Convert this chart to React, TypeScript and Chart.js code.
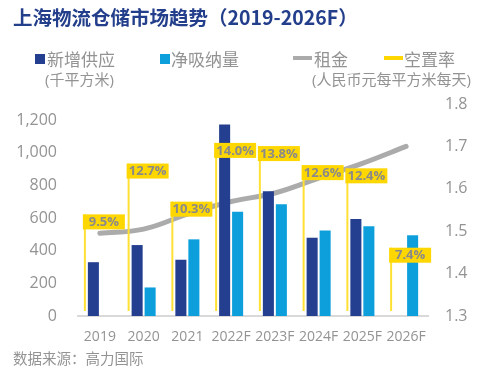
import React, { useEffect, useRef } from "react";
import { Chart, registerables } from "chart.js";

Chart.register(...registerables);

const categories = ["2019", "2020", "2021", "2022F", "2023F", "2024F", "2025F", "2026F"];
const newSupply = [330, 435, 345, 1175, 765, 480, 595, null];
const netAbsorption = [null, 175, 470, 640, 685, 525, 550, 495];
const rent = [1.495, 1.505, 1.54, 1.57, 1.59, 1.625, 1.66, 1.7];
const vacancy = [9.5, 12.7, 10.3, 14.0, 13.8, 12.6, 12.4, 7.4];
const leftTicks = [0, 200, 400, 600, 800, 1000, 1200];
const rightTicks = [1.3, 1.4, 1.5, 1.6, 1.7, 1.8];

const FONT = "'Open Sans', 'Noto Sans CJK SC', sans-serif";
const CJK = "'Noto Sans CJK SC', 'Open Sans', sans-serif";
const GRAY = "#939393";

const vacancyPlugin = {
  id: "vacancyMarks",
  afterDatasetsDraw(chart: any) {
    const meta = chart.getDatasetMeta(3);
    const xs = chart.scales.x;
    const step = xs.getPixelForValue(1) - xs.getPixelForValue(0);
    const base = chart.chartArea.bottom - 5;
    const ctx = chart.ctx;
    ctx.save();
    meta.data.forEach((pt: any, i: number) => {
      const lx = pt.x - step * 0.343;
      ctx.strokeStyle = "#FFE033";
      ctx.lineWidth = 2;
      ctx.beginPath();
      ctx.moveTo(lx, base);
      ctx.lineTo(lx, pt.y);
      ctx.stroke();
      ctx.fillStyle = "#FFD700";
      ctx.fillRect(lx - 2, pt.y, 42, 15);
      ctx.fillStyle = "#8A8A8A";
      ctx.font = "bold 13px 'Open Sans', sans-serif";
      ctx.textAlign = "center";
      ctx.textBaseline = "middle";
      ctx.fillText(vacancy[i].toFixed(1) + "%", lx - 2 + 21, pt.y + 8);
    });
    ctx.restore();
  },
};

function ChartCanvas() {
  const ref = useRef<HTMLCanvasElement | null>(null);
  useEffect(() => {
    if (!ref.current) return;
    const chart = new Chart(ref.current, {
      type: "bar",
      data: {
        labels: categories,
        datasets: [
          {
            type: "bar",
            label: "新增供应",
            data: newSupply as any,
            backgroundColor: "#243F8F",
            yAxisID: "y",
            order: 1,
            barPercentage: 0.85,
            categoryPercentage: 0.594,
          },
          {
            type: "bar",
            label: "净吸纳量",
            data: netAbsorption as any,
            backgroundColor: "#0C9FDB",
            yAxisID: "y",
            order: 1,
            barPercentage: 0.85,
            categoryPercentage: 0.594,
          },
          {
            type: "line",
            label: "租金",
            data: rent,
            borderColor: "#ABABAB",
            borderWidth: 5,
            borderCapStyle: "round",
            tension: 0.4,
            pointRadius: 0,
            yAxisID: "y1",
            order: 3,
          },
          {
            type: "line",
            label: "空置率",
            data: vacancy,
            showLine: false,
            pointRadius: 0,
            yAxisID: "yV",
            order: 0,
          },
        ] as any,
      },
      options: {
        responsive: false,
        animation: false,
        layout: { padding: { top: 104, left: 0, right: 0, bottom: 0 } },
        plugins: { legend: { display: false }, tooltip: { enabled: false } },
        scales: {
          x: {
            type: "category",
            offset: true,
            grid: { display: false, drawTicks: false },
            border: { display: true, color: "#D9D9D9", width: 2 },
            ticks: {
              color: GRAY,
              font: { size: 14, family: FONT },
              padding: 13,
              maxRotation: 0,
              autoSkip: false,
            },
            afterFit: (s: any) => {
              s.height = 60;
            },
          },
          y: {
            position: "left",
            min: 0,
            max: 1300,
            grid: { display: false, drawTicks: false },
            border: { display: false },
            ticks: {
              color: GRAY,
              font: { size: 16, family: FONT },
              padding: 21,
              callback: (v: any) => Number(v).toLocaleString("en-US"),
            },
            afterBuildTicks: (s: any) => {
              s.ticks = leftTicks.map((v) => ({ value: v }));
            },
            afterFit: (s: any) => {
              s.width = 78;
            },
          },
          y1: {
            position: "right",
            min: 1.3,
            max: 1.8,
            grid: { display: false, drawTicks: false },
            border: { display: false },
            ticks: {
              color: GRAY,
              font: { size: 16, family: FONT },
              padding: 17,
              callback: (v: any) => Number(v).toFixed(1),
            },
            afterBuildTicks: (s: any) => {
              s.ticks = rightTicks.map((v) => ({ value: v }));
            },
            afterFit: (s: any) => {
              s.width = 72;
            },
          },
          yV: {
            display: false,
            min: 3.1,
            max: 16.45,
          },
        },
      } as any,
      plugins: [vacancyPlugin],
    });
    return () => chart.destroy();
  }, []);
  return (
    <canvas
      ref={ref}
      width={500}
      height={376}
      style={{ position: "absolute", left: 0, top: 0, width: 500, height: 376 }}
    />
  );
}

const abs = (left: number, top: number, extra: React.CSSProperties = {}): React.CSSProperties => ({
  position: "absolute",
  left,
  top,
  whiteSpace: "nowrap",
  lineHeight: 1,
  ...extra,
});

export default function App() {
  return (
    <div
      style={{
        position: "absolute",
        left: 0,
        top: 0,
        width: 500,
        height: 376,
        background: "#fff",
        overflow: "hidden",
        fontFamily: FONT,
      }}
    >
      <ChartCanvas />
      <div
        style={abs(13, 7, {
          fontFamily: CJK,
          fontWeight: 700,
          fontSize: 19.5,
          color: "#233E8B",
        })}
      >
        上海物流仓储市场趋势（2019-2026F）
      </div>
      {/* legend */}
      <div style={abs(35, 54, { width: 10, height: 10, background: "#243F8F" })} />
      <div style={abs(47, 50, { fontSize: 17, color: GRAY, fontFamily: CJK })}>新增供应</div>
      <div style={abs(160, 54, { width: 10, height: 10, background: "#0C9FDB" })} />
      <div style={abs(171, 50, { fontSize: 17, color: GRAY, fontFamily: CJK })}>净吸纳量</div>
      <div style={abs(293, 56, { width: 19, height: 4, background: "#ABABAB" })} />
      <div style={abs(314, 50, { fontSize: 17, color: GRAY, fontFamily: CJK })}>租金</div>
      <div style={abs(384, 56, { width: 19, height: 4, background: "#FFD700" })} />
      <div style={abs(404, 50, { fontSize: 17, color: GRAY, fontFamily: CJK })}>空置率</div>
      <div style={abs(45, 72, { fontSize: 15, color: GRAY })}>(千平方米)</div>
      <div style={abs(312, 72, { fontSize: 15, color: GRAY })}>(人民币元每平方米每天)</div>
      <div style={abs(13, 351, { fontSize: 14.5, color: GRAY, fontFamily: CJK })}>数据来源：高力国际</div>
    </div>
  );
}
